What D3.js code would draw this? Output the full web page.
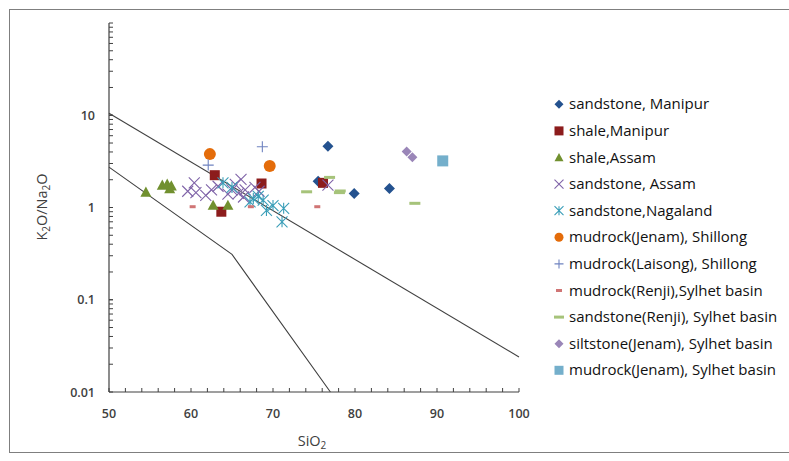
<!DOCTYPE html>
<html><head><meta charset="utf-8">
<script src="https://cdn.jsdelivr.net/npm/d3@7"></script>
<style>body{margin:0;background:#fff}svg{display:block}</style>
</head><body>
<svg id="c" width="789" height="461"></svg>
<script>
// ---- data ----
const seriesNames = ["sandstone, Manipur","shale,Manipur","shale,Assam","sandstone, Assam","sandstone,Nagaland","mudrock(Jenam), Shillong","mudrock(Laisong), Shillong","mudrock(Renji),Sylhet basin","sandstone(Renji), Sylhet basin","siltstone(Jenam), Sylhet basin","mudrock(Jenam), Sylhet basin"];
const sandstoneManipur = [[76.7,4.6],[79.9,1.42],[84.2,1.61],[75.5,1.93]];
const shaleManipur = [[62.9,2.24],[68.6,1.82],[63.7,0.90],[76.1,1.85]];
const shaleAssam = [[54.5,1.47],[56.5,1.75],[57.1,1.8],[57.6,1.72],[57.4,1.6],[62.7,1.06],[64.5,1.06]];
const sandstoneAssam = [[59.6,1.5],[60.4,1.85],[60.6,1.45],[61.8,1.35],[62.5,1.55],[63.3,1.7],[64.5,1.4],[65.0,1.55],[65.4,1.78],[65.8,1.42],[66.1,2.02],[66.4,1.3],[66.6,1.55],[67.8,1.65],[68.3,1.5],[76.7,1.75]];
const sandstoneNagaland = [[63.9,1.85],[65.0,1.65],[67.2,1.15],[67.6,1.25],[68.2,1.32],[68.8,1.2],[69.2,0.93],[70.0,1.05],[71.3,0.98],[71.1,0.70]];
const mudrockJenamShillong = [[62.3,3.79],[69.6,2.81]];
const mudrockLaisongShillong = [[68.7,4.55],[62.1,2.88]];
const mudrockRenjiSylhet = [[60.2,1.02],[67.3,1.02],[75.4,1.02]];
const sandstoneRenjiSylhet = [[74.1,1.48],[76.9,2.12],[78.2,1.51],[78.1,1.45],[87.3,1.11]];
const siltstoneJenamSylhet = [[86.3,4.05],[87.0,3.5]];
const mudrockJenamSylhet = [[90.7,3.2]];
const boundaryUpper = [[50,10.5],[100,0.024]];
const boundaryLower = [[50,2.74],[65,0.31],[77,0.01]];
const xTicks = [50,60,70,80,90,100];
const yTicks = [0.01,0.1,1,10];
const yTickLabels = ["0.01","0.1","1","10"];

const seriesData = [sandstoneManipur,shaleManipur,shaleAssam,sandstoneAssam,sandstoneNagaland,mudrockJenamShillong,mudrockLaisongShillong,mudrockRenjiSylhet,sandstoneRenjiSylhet,siltstoneJenamSylhet,mudrockJenamSylhet];
const styles = [
 {shape:"diamond",color:"#24528F",size:11},
 {shape:"square",color:"#8C1C1C",size:10},
 {shape:"triangle",color:"#71902F",size:11},
 {shape:"x",color:"#7F63A8",size:11},
 {shape:"star",color:"#3A9EB8",size:11},
 {shape:"circle",color:"#E46C0A",size:12},
 {shape:"plus",color:"#6F83C0",size:11},
 {shape:"dashS",color:"#D07575",size:6},
 {shape:"dashL",color:"#A6C37A",size:11},
 {shape:"diamond",color:"#9A86B8",size:10},
 {shape:"square",color:"#74AFCB",size:11}
];

const svg = d3.select("#c");
const x = d3.scaleLinear().domain([50,100]).range([109,519]);
const y = d3.scaleLog().domain([0.01,100]).range([392,23]);

// outer frame
svg.append("rect").attr("x",9.5).attr("y",9.5).attr("width",800).attr("height",443)
  .attr("fill","none").attr("stroke","#7f7f7f").attr("stroke-width",1);

// axes
const axisColor="#404040";
const gx = svg.append("g").attr("transform","translate(0,392)");
gx.append("line").attr("x1",x(50)).attr("x2",x(100)).attr("stroke",axisColor).attr("stroke-width",1.2);
gx.selectAll("line.t").data(d3.range(50,100.1,2)).join("line").attr("class","t")
  .attr("x1",d=>x(d)).attr("x2",d=>x(d)).attr("y1",0).attr("y2",-4).attr("stroke",axisColor);
gx.selectAll("text").data(xTicks).join("text").attr("x",d=>x(d)).attr("y",26)
  .attr("text-anchor","middle").attr("font-family","Open Sans").attr("font-size",12.5).attr("font-weight",600).attr("fill","#404040").text(d=>d);

const gy = svg.append("g").attr("transform","translate(109,0)");
gy.append("line").attr("y1",y(0.01)).attr("y2",y(100)).attr("stroke",axisColor).attr("stroke-width",1.2);
const minor=[];
[0.01,0.1,1,10].forEach(b=>{for(let k=1;k<=10;k++)minor.push(b*k);});
gy.selectAll("line.t").data(minor).join("line").attr("class","t")
  .attr("y1",d=>y(d)).attr("y2",d=>y(d)).attr("x1",0).attr("x2",4).attr("stroke",axisColor);
gy.selectAll("text").data(yTicks).join("text").attr("x",-14).attr("y",d=>y(d)+4.5)
  .attr("text-anchor","end").attr("font-family","Open Sans").attr("font-size",12.5).attr("font-weight",600).attr("fill","#404040").text((d,i)=>yTickLabels[i]);

// axis titles
const yt = svg.append("text").attr("transform","translate(47,207) rotate(-90)").attr("text-anchor","middle")
  .attr("font-family","Open Sans").attr("font-size",14.5).attr("fill","#404040");
yt.append("tspan").text("K");
yt.append("tspan").attr("font-size",10).attr("dy",3).text("2");
yt.append("tspan").attr("dy",-3).text("O/Na");
yt.append("tspan").attr("font-size",10).attr("dy",3).text("2");
yt.append("tspan").attr("dy",-3).text("O");
const xt = svg.append("text").attr("x",312).attr("y",446).attr("text-anchor","middle")
  .attr("font-family","Open Sans").attr("font-size",14.5).attr("fill","#404040");
xt.append("tspan").text("SiO");
xt.append("tspan").attr("font-size",10).attr("dy",3).text("2");

// boundary lines
const line = d3.line().x(d=>x(d[0])).y(d=>y(d[1]));
[boundaryUpper,boundaryLower].forEach(b=>svg.append("path").attr("d",line(b)).attr("fill","none").attr("stroke","#404040").attr("stroke-width",1.1));

// markers
function drawMarker(g,st){
  const s=st.size, h=s/2;
  switch(st.shape){
    case "diamond": g.append("path").attr("d",`M0,${-h}L${h},0L0,${h}L${-h},0Z`).attr("fill",st.color); break;
    case "square": g.append("rect").attr("x",-h).attr("y",-h).attr("width",s).attr("height",s).attr("fill",st.color); break;
    case "triangle": g.append("path").attr("d",`M0,${-h}L${h},${h*0.85}L${-h},${h*0.85}Z`).attr("fill",st.color); break;
    case "circle": g.append("circle").attr("r",h).attr("fill",st.color); break;
    case "x": g.append("path").attr("d",`M${-h},${-h}L${h},${h}M${-h},${h}L${h},${-h}`).attr("stroke",st.color).attr("stroke-width",1.1); break;
    case "star": g.append("path").attr("d",`M${-h},${-h}L${h},${h}M${-h},${h}L${h},${-h}M0,${-h}L0,${h}`).attr("stroke",st.color).attr("stroke-width",1.1); break;
    case "plus": g.append("path").attr("d",`M${-h},0L${h},0M0,${-h}L0,${h}`).attr("stroke",st.color).attr("stroke-width",1.1); break;
    case "dashS": g.append("rect").attr("x",-h).attr("y",-1.5).attr("width",s).attr("height",3).attr("fill",st.color); break;
    case "dashL": g.append("rect").attr("x",-h).attr("y",-1.5).attr("width",s).attr("height",3).attr("fill",st.color); break;
  }
}
seriesData.forEach((data,i)=>{
  const g = svg.append("g");
  data.forEach(d=>{
    const m = g.append("g").attr("transform",`translate(${x(d[0])},${y(d[1])})`);
    drawMarker(m,styles[i]);
  });
});

// legend
const lg = svg.append("g");
seriesNames.forEach((n,i)=>{
  const cy = 104.3 + i*26.6;
  const st = Object.assign({},styles[i]);
  st.size = Math.min(st.size,9);
  if(st.shape==="dashL") st.size=10;
  if(st.shape==="dashS") st.size=6;
  const m = lg.append("g").attr("transform",`translate(559,${cy})`);
  drawMarker(m,st);
  lg.append("text").attr("x",569).attr("y",cy+5).attr("font-family","Open Sans").attr("font-size",15)
    .attr("fill","#111").text(n);
});
</script>
</body></html>
